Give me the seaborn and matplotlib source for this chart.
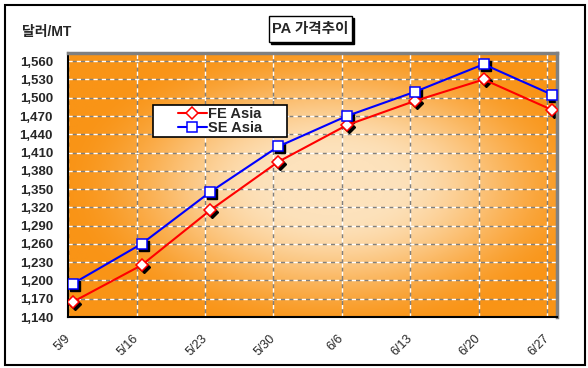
import numpy as np
import pandas as pd
import matplotlib
matplotlib.use("Agg")
import matplotlib.pyplot as plt
import matplotlib.transforms as mtransforms
from matplotlib.patches import Rectangle
import seaborn as sns

# weekly PA prices (USD/MT)
dates = ["5/9", "5/16", "5/23", "5/30", "6/6", "6/13", "6/20", "6/27"]
fe_asia = [1165, 1225, 1315, 1395, 1455, 1495, 1530, 1480]
se_asia = [1195, 1260, 1345, 1420, 1470, 1510, 1555, 1505]
y_ticks = list(range(1140, 1561, 30))

# date axis: ticks at day boundaries, points in the middle of the day
day = pd.to_datetime(["2008/" + d for d in dates], format="%Y/%m/%d")
tick_x = (day - day[0]).days.to_numpy()
point_x = tick_x + 0.5

df = pd.DataFrame({"x": np.concatenate([point_x, point_x]),
                   "price": fe_asia + se_asia,
                   "series": ["FE Asia"] * len(dates) + ["SE Asia"] * len(dates)})

sns.set_style("white")
plt.rcParams["font.family"] = ["Liberation Sans", "Noto Sans CJK KR", "DejaVu Sans"]

fig = plt.figure(figsize=(5.88, 3.68), dpi=100)
ax = fig.add_axes([68.2 / 588, 1 - 317 / 368, (557 - 68.2) / 588, (317 - 53) / 368])

x_max = tick_x[-1] + 1
y_top = 1573.5

# radial orange gradient background (light centre, orange rim)
gx, gy = np.meshgrid(np.linspace(0, 1, 400), np.linspace(0, 1, 260))
r = np.sqrt(((gx - 0.54) / 0.56) ** 2 + ((gy - 0.5) / 0.58) ** 2)
t = np.clip((r - 0.2) / 0.8, 0, 1)
t = t * t * (3 - 2 * t)
inner = np.array([253, 226, 188]) / 255
outer = np.array([249, 148, 22]) / 255
img = inner + (outer - inner) * t[..., None]
ax.imshow(img, extent=(0, x_max, 1140, y_top), aspect="auto", origin="lower", zorder=0)

ax.grid(True, color="white", linestyle=(0, (3, 3)), gapcolor="#808080", lw=1)
for ln in ax.get_xgridlines() + ax.get_ygridlines():
    ln.set_zorder(1)

colors = {"FE Asia": "#ff0000", "SE Asia": "#0000ff"}
markers = {"FE Asia": "D", "SE Asia": "s"}
msize = {"FE Asia": 6.5, "SE Asia": 7}
shadow = mtransforms.offset_copy(ax.transData, fig=fig, x=2, y=-2, units="dots")

for name, grp in df.groupby("series"):
    ax.plot(grp["x"], grp["price"], linestyle="none", marker=markers[name],
            markersize=msize[name], color="black", transform=shadow, zorder=2.5)
    sns.lineplot(data=grp, x="x", y="price", ax=ax, color=colors[name], lw=1.5,
                 marker=markers[name], markersize=msize[name], markerfacecolor="white",
                 markeredgecolor=colors[name], markeredgewidth=1.1, label=name, zorder=3)

ax.set_xlim(0, x_max)
ax.set_ylim(1140, y_top)
ax.set_xticks(tick_x)
ax.set_xticklabels(dates, rotation=45, ha="right", va="center", rotation_mode="anchor",
                   fontsize=9)
ax.set_yticks(y_ticks)
ax.set_yticklabels([f"{v:,}" for v in y_ticks], fontsize=9.5, fontweight="bold")
ax.tick_params(axis="y", length=0, pad=11)
ax.tick_params(axis="x", direction="in", length=3, width=1, color="black", pad=14)
ax.set_xlabel("")
ax.set_ylabel("")

for s in ["left", "bottom"]:
    ax.spines[s].set_color("black")
    ax.spines[s].set_linewidth(1.5)
for s in ["top", "right"]:
    ax.spines[s].set_color("#808080")
    ax.spines[s].set_linewidth(2.5)

# legend box
lx0, lx1 = (153 - 68.2) / 488.8, (287 - 68.2) / 488.8
ly0, ly1 = (317 - 137) / 264, (317 - 105) / 264
ax.add_patch(Rectangle((lx0, ly0), lx1 - lx0, ly1 - ly0, transform=ax.transAxes,
                       facecolor="white", edgecolor="black", lw=1.2, zorder=5))
leg = ax.legend(loc="center", bbox_to_anchor=((lx0 + lx1) / 2, (ly0 + ly1) / 2),
                frameon=False, prop={"size": 10.5, "weight": "bold"},
                handlelength=2.0, handletextpad=0.1, labelspacing=0.0, borderpad=0)
leg.set_zorder(6)

# title box with shadow
fig.patches.append(Rectangle((271 / 588, 1 - 44 / 368), 83 / 588, 26 / 368,
                             transform=fig.transFigure, facecolor="black", edgecolor="black"))
fig.patches.append(Rectangle((269 / 588, 1 - 42 / 368), 83 / 588, 26 / 368,
                             transform=fig.transFigure, facecolor="white", edgecolor="black",
                             lw=1))
fig.text(310.5 / 588, 1 - 29 / 368, "PA 가격추이", ha="center", va="center",
         fontsize=10.5, fontweight="bold")
fig.text(22 / 588, 1 - 32 / 368, "달러/MT", ha="left", va="center",
         fontsize=10, fontweight="bold")

# outer frame
fig.patches.append(Rectangle((4.5 / 588, 3.5 / 368), 580.5 / 588, 360 / 368,
                             transform=fig.transFigure, fill=False, edgecolor="black", lw=1.5))

fig.savefig("out.png", dpi=100)
